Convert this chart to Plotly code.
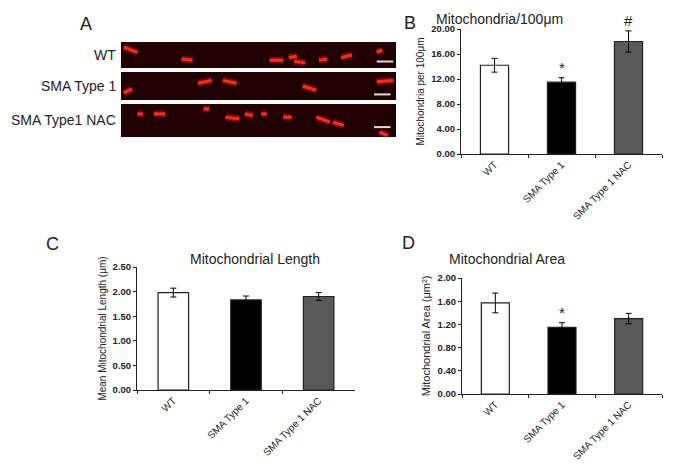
import plotly.graph_objects as go

groups = ["WT", "SMA Type 1", "SMA Type 1 NAC"]
bar_colors = ["#ffffff", "#000000", "#595959"]

count_mean = [14.2, 11.5, 18.0]
count_err = [1.1, 0.7, 1.7]
length_mean = [1.98, 1.83, 1.90]
length_err = [0.09, 0.08, 0.08]
area_mean = [1.57, 1.15, 1.30]
area_err = [0.17, 0.08, 0.09]
count_marks = ["", "*", "#"]
area_marks = ["", "*", ""]

row_labels = ["WT", "SMA Type 1", "SMA Type1 NAC"]
# streaks in the micrographs: (x0, y0, x1, y1) in a 0-100 x 0-1 frame
streaks_wt = [(1, .8, 6, .6), (22, .35, 26, .3), (54, .3, 59, .3), (61, .4, 64, .45),
              (63, .25, 67, .2), (72, .3, 75, .35), (80, .4, 84, .5), (93, .6, 95, .7)]
streaks_sma = [(1, .25, 4, .4), (28, .6, 33, .7), (37, .7, 42, .6), (66, .5, 71, .35), (93, .65, 99, .7)]
streaks_nac = [(6, .7, 8, .7), (12, .7, 16, .7), (30, .85, 32, .85), (38, .6, 43, .55), (45, .7, 48, .65),
               (51, .7, 53, .7), (59, .6, 62, .6), (71, .6, 76, .45), (77, .45, 81, .35), (94, .15, 97, .05)]
scale_bars = [(93, .25, 99, .25), (92, .2, 98, .2), (92, .3, 98, .3)]

# the page puts the plot 8px in from the top-left corner
OFF = 8
W, H = 675 - 2 * OFF, 470 - 2 * OFF
def px(x0, x1): return [(x0 - OFF) / W, (x1 - OFF) / W]
def py(y_top, y_bot): return [1 - (y_bot - OFF) / H, 1 - (y_top - OFF) / H]

fig = go.Figure()
font = dict(family="Arial, Liberation Sans", color="#222")

panels = [("x", "y", count_mean, count_err, count_marks),
          ("x2", "y2", length_mean, length_err, None),
          ("x3", "y3", area_mean, area_err, area_marks)]
for xa, ya, m, e, marks in panels:
    fig.add_trace(go.Bar(x=groups, y=m, xaxis=xa, yaxis=ya, width=0.42,
                         marker=dict(color=bar_colors, line=dict(color="#222", width=1.2)),
                         error_y=dict(type="data", array=e, color="black", thickness=1, width=3),
                         showlegend=False))
    if marks:
        for g, v, er, t in zip(groups, m, e, marks):
            if t:
                fig.add_annotation(x=g, y=v + er, xref=xa, yref=ya, text=t, showarrow=False,
                                   yanchor="bottom", font=dict(size=15, family="Arial", color="#222"))

# micrograph rows
for i, (streaks, bar) in enumerate(zip([streaks_wt, streaks_sma, streaks_nac], scale_bars)):
    xa, ya = "x%d" % (i + 4), "y%d" % (i + 4)
    xs, ys = [], []
    for x0, y0, x1, y1 in streaks:
        xs += [x0, x1, None]
        ys += [y0, y1, None]
    fig.add_trace(go.Scatter(x=xs, y=ys, xaxis=xa, yaxis=ya, mode="lines",
                             line=dict(color="rgba(255,40,20,0.35)", width=7), showlegend=False))
    fig.add_trace(go.Scatter(x=xs, y=ys, xaxis=xa, yaxis=ya, mode="lines",
                             line=dict(color="#ff2a1a", width=3), showlegend=False))
    fig.add_trace(go.Scatter(x=[bar[0], bar[2]], y=[bar[1], bar[3]], xaxis=xa, yaxis=ya, mode="lines",
                             line=dict(color="#dddddd", width=2), showlegend=False))
    fig.add_shape(type="rect", xref=xa + " domain", yref=ya + " domain", x0=0, x1=1, y0=0, y1=1,
                  fillcolor="#200000", line=dict(width=0), layer="below")
    fig.add_annotation(xref=xa + " domain", yref=ya + " domain", x=-0.01, y=0.5, xanchor="right",
                       text=row_labels[i], showarrow=False, font=dict(size=14, **font))

axis_common = dict(showline=True, linecolor="#222", linewidth=1, ticks="outside", ticklen=3,
                   tickcolor="#222", showgrid=False, zeroline=False, automargin=False)
xtick = dict(tickangle=-45, tickfont=dict(size=10, **font), tickson="boundaries")
ytick = dict(tickfont=dict(size=9.5, family="Arial", color="#222", weight="bold"))

layout = dict(
    width=W, height=H, margin=dict(l=0, r=0, t=0, b=0),
    paper_bgcolor="white", plot_bgcolor="white",
    xaxis=dict(domain=px(461, 662), anchor="y", **axis_common, **xtick),
    yaxis=dict(domain=py(29, 154), anchor="x", range=[0, 20], dtick=4, tickformat=".2f",
               title=dict(text="Mitochondria per 100μm", font=dict(size=10, **font), standoff=4), **axis_common, **ytick),
    xaxis2=dict(domain=px(137, 355), anchor="y2", **axis_common, **xtick),
    yaxis2=dict(domain=py(267, 390), anchor="x2", range=[0, 2.5], dtick=0.5, tickformat=".2f",
                title=dict(text="Mean Mitochondrial Length (μm)", font=dict(size=10, **font), standoff=4), **axis_common, **ytick),
    xaxis3=dict(domain=px(462, 662), anchor="y3", **axis_common, **xtick),
    yaxis3=dict(domain=py(278, 394), anchor="x3", range=[0, 2.0], dtick=0.4, tickformat=".2f",
                title=dict(text="Mitochondrial Area (μm²)", font=dict(size=11, **font), standoff=4), **axis_common, **ytick),
)
rows_px = [(42, 68), (72, 100), (104, 137)]
for i, (t, b) in enumerate(rows_px):
    layout["xaxis%d" % (i + 4)] = dict(domain=px(121, 396), anchor="y%d" % (i + 4), range=[0, 100], visible=False)
    layout["yaxis%d" % (i + 4)] = dict(domain=py(t, b), anchor="x%d" % (i + 4), range=[0, 1], visible=False)
fig.update_layout(**layout)

for txt, x, y, size in [("A", 78, 12, 18), ("B", 410, 11, 18), ("C", 44, 244, 18), ("D", 408, 243, 18),
                        ("Mitochondria/100μm", 565, 9, 14), ("Mitochondrial Length", 255, 259, 14),
                        ("Mitochondrial Area", 567, 259, 14)]:
    fig.add_annotation(xref="paper", yref="paper", x=(x - OFF) / W, y=1 - (y - OFF) / H, text=txt,
                       showarrow=False, font=dict(size=size, **font))

fig.write_html("out.html")
